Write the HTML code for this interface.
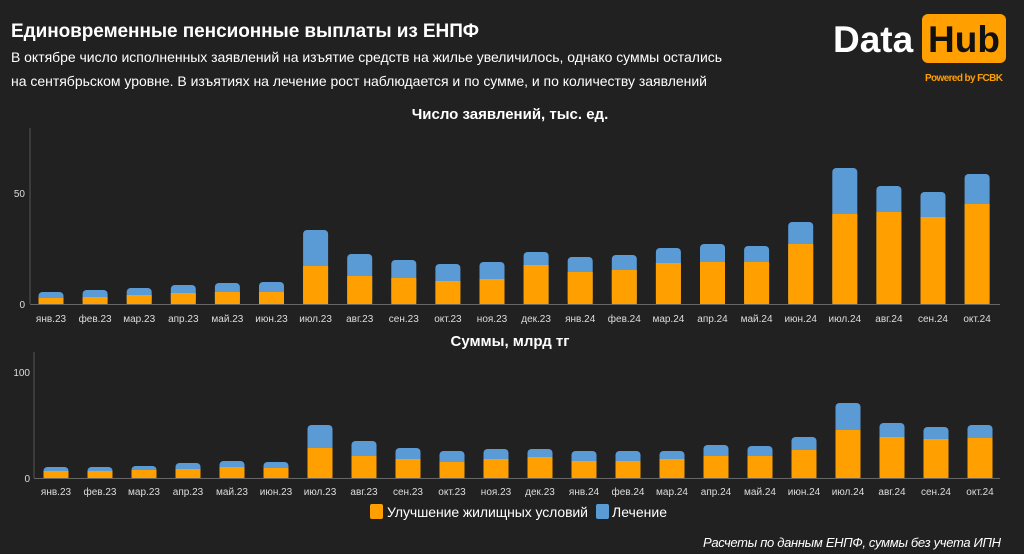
<!DOCTYPE html>
<html><head><meta charset="utf-8"><style>
html,body{margin:0;padding:0;background:#212121;}
svg{display:block;font-family:"Liberation Sans",sans-serif;}
</style></head><body>
<svg width="1024" height="554" viewBox="0 0 1024 554" xmlns="http://www.w3.org/2000/svg">
<rect width="1024" height="554" fill="#212121"/>
<text x="11" y="37" fill="#fff" font-size="19" font-weight="bold" textLength="468">Единовременные пенсионные выплаты из ЕНПФ</text>
<text x="11" y="62" fill="#fff" font-size="14" textLength="711">В октябре число исполненных заявлений на изъятие средств на жилье увеличилось, однако суммы остались</text>
<text x="11" y="86" fill="#fff" font-size="14" textLength="696">на сентябрьском уровне. В изъятиях на лечение рост наблюдается и по сумме, и по количеству заявлений</text>
<text x="833" y="52" fill="#fff" font-size="37" font-weight="bold">Data</text>
<rect x="922" y="14" width="84" height="49" rx="6" fill="#FF9F00"/>
<text x="964" y="52" fill="#111" font-size="37" font-weight="bold" text-anchor="middle">Hub</text>
<text x="925" y="81" fill="#FF9F00" font-size="10" font-weight="bold" textLength="78">Powered by FCBK</text>
<text x="510" y="119" fill="#fff" font-size="15" font-weight="bold" text-anchor="middle">Число заявлений, тыс. ед.</text>
<line x1="30" y1="128" x2="30" y2="304" stroke="#555"/>
<line x1="30" y1="304.5" x2="1000" y2="304.5" stroke="#666"/>
<g fill="#ddd" font-size="10" text-anchor="end"><text x="25" y="197">50</text><text x="25" y="308">0</text></g>
<g fill="#5B9BD5">
<rect x="38.5" y="292" width="25" height="12" rx="4"/><rect x="82.6" y="290" width="25" height="14" rx="4"/><rect x="126.7" y="288" width="25" height="16" rx="4"/><rect x="170.8" y="285" width="25" height="19" rx="4"/><rect x="214.9" y="283" width="25" height="21" rx="4"/><rect x="259" y="282" width="25" height="22" rx="4"/><rect x="303.1" y="230" width="25" height="74" rx="4"/><rect x="347.2" y="254" width="25" height="50" rx="4"/><rect x="391.3" y="260" width="25" height="44" rx="4"/><rect x="435.4" y="264" width="25" height="40" rx="4"/><rect x="479.5" y="262" width="25" height="42" rx="4"/><rect x="523.6" y="252" width="25" height="52" rx="4"/><rect x="567.7" y="257" width="25" height="47" rx="4"/><rect x="611.8" y="255" width="25" height="49" rx="4"/><rect x="655.9" y="248" width="25" height="56" rx="4"/><rect x="700" y="244" width="25" height="60" rx="4"/><rect x="744.1" y="246" width="25" height="58" rx="4"/><rect x="788.2" y="222" width="25" height="82" rx="4"/><rect x="832.3" y="168" width="25" height="136" rx="4"/><rect x="876.4" y="186" width="25" height="118" rx="4"/><rect x="920.5" y="192" width="25" height="112" rx="4"/><rect x="964.6" y="174" width="25" height="130" rx="4"/>
</g>
<g fill="#FF9F00">
<rect x="38.5" y="298" width="25" height="6"/><rect x="82.6" y="297" width="25" height="7"/><rect x="126.7" y="295" width="25" height="9"/><rect x="170.8" y="293" width="25" height="11"/><rect x="214.9" y="292" width="25" height="12"/><rect x="259" y="292" width="25" height="12"/><rect x="303.1" y="266" width="25" height="38"/><rect x="347.2" y="276" width="25" height="28"/><rect x="391.3" y="278" width="25" height="26"/><rect x="435.4" y="281" width="25" height="23"/><rect x="479.5" y="279" width="25" height="25"/><rect x="523.6" y="265" width="25" height="39"/><rect x="567.7" y="272" width="25" height="32"/><rect x="611.8" y="270" width="25" height="34"/><rect x="655.9" y="263" width="25" height="41"/><rect x="700" y="262" width="25" height="42"/><rect x="744.1" y="262" width="25" height="42"/><rect x="788.2" y="244" width="25" height="60"/><rect x="832.3" y="214" width="25" height="90"/><rect x="876.4" y="212" width="25" height="92"/><rect x="920.5" y="217" width="25" height="87"/><rect x="964.6" y="204" width="25" height="100"/>
</g>
<g fill="#ddd" font-size="10" text-anchor="middle">
<text x="51" y="322">янв.23</text><text x="95.1" y="322">фев.23</text><text x="139.2" y="322">мар.23</text><text x="183.3" y="322">апр.23</text><text x="227.4" y="322">май.23</text><text x="271.5" y="322">июн.23</text><text x="315.6" y="322">июл.23</text><text x="359.7" y="322">авг.23</text><text x="403.8" y="322">сен.23</text><text x="447.9" y="322">окт.23</text><text x="492" y="322">ноя.23</text><text x="536.1" y="322">дек.23</text><text x="580.2" y="322">янв.24</text><text x="624.3" y="322">фев.24</text><text x="668.4" y="322">мар.24</text><text x="712.5" y="322">апр.24</text><text x="756.6" y="322">май.24</text><text x="800.7" y="322">июн.24</text><text x="844.8" y="322">июл.24</text><text x="888.9" y="322">авг.24</text><text x="933" y="322">сен.24</text><text x="977.1" y="322">окт.24</text>
</g>
<text x="510" y="346" fill="#fff" font-size="15" font-weight="bold" text-anchor="middle">Суммы, млрд тг</text>
<line x1="34" y1="352" x2="34" y2="478" stroke="#555"/>
<line x1="34" y1="478.5" x2="1000" y2="478.5" stroke="#666"/>
<g fill="#ddd" font-size="10" text-anchor="end"><text x="30" y="376">100</text><text x="30" y="482">0</text></g>
<g fill="#5B9BD5">
<rect x="43.5" y="467" width="25" height="11" rx="4"/><rect x="87.5" y="467" width="25" height="11" rx="4"/><rect x="131.5" y="466" width="25" height="12" rx="4"/><rect x="175.5" y="463" width="25" height="15" rx="4"/><rect x="219.5" y="461" width="25" height="17" rx="4"/><rect x="263.5" y="462" width="25" height="16" rx="4"/><rect x="307.5" y="425" width="25" height="53" rx="4"/><rect x="351.5" y="441" width="25" height="37" rx="4"/><rect x="395.5" y="448" width="25" height="30" rx="4"/><rect x="439.5" y="451" width="25" height="27" rx="4"/><rect x="483.5" y="449" width="25" height="29" rx="4"/><rect x="527.5" y="449" width="25" height="29" rx="4"/><rect x="571.5" y="451" width="25" height="27" rx="4"/><rect x="615.5" y="451" width="25" height="27" rx="4"/><rect x="659.5" y="451" width="25" height="27" rx="4"/><rect x="703.5" y="445" width="25" height="33" rx="4"/><rect x="747.5" y="446" width="25" height="32" rx="4"/><rect x="791.5" y="437" width="25" height="41" rx="4"/><rect x="835.5" y="403" width="25" height="75" rx="4"/><rect x="879.5" y="423" width="25" height="55" rx="4"/><rect x="923.5" y="427" width="25" height="51" rx="4"/><rect x="967.5" y="425" width="25" height="53" rx="4"/>
</g>
<g fill="#FF9F00">
<rect x="43.5" y="471" width="25" height="7"/><rect x="87.5" y="471" width="25" height="7"/><rect x="131.5" y="470" width="25" height="8"/><rect x="175.5" y="469" width="25" height="9"/><rect x="219.5" y="467" width="25" height="11"/><rect x="263.5" y="468" width="25" height="10"/><rect x="307.5" y="448" width="25" height="30"/><rect x="351.5" y="456" width="25" height="22"/><rect x="395.5" y="459" width="25" height="19"/><rect x="439.5" y="462" width="25" height="16"/><rect x="483.5" y="459" width="25" height="19"/><rect x="527.5" y="457" width="25" height="21"/><rect x="571.5" y="461" width="25" height="17"/><rect x="615.5" y="461" width="25" height="17"/><rect x="659.5" y="459" width="25" height="19"/><rect x="703.5" y="456" width="25" height="22"/><rect x="747.5" y="456" width="25" height="22"/><rect x="791.5" y="450" width="25" height="28"/><rect x="835.5" y="430" width="25" height="48"/><rect x="879.5" y="437" width="25" height="41"/><rect x="923.5" y="439" width="25" height="39"/><rect x="967.5" y="438" width="25" height="40"/>
</g>
<g fill="#ddd" font-size="10" text-anchor="middle">
<text x="56" y="495">янв.23</text><text x="100" y="495">фев.23</text><text x="144" y="495">мар.23</text><text x="188" y="495">апр.23</text><text x="232" y="495">май.23</text><text x="276" y="495">июн.23</text><text x="320" y="495">июл.23</text><text x="364" y="495">авг.23</text><text x="408" y="495">сен.23</text><text x="452" y="495">окт.23</text><text x="496" y="495">ноя.23</text><text x="540" y="495">дек.23</text><text x="584" y="495">янв.24</text><text x="628" y="495">фев.24</text><text x="672" y="495">мар.24</text><text x="716" y="495">апр.24</text><text x="760" y="495">май.24</text><text x="804" y="495">июн.24</text><text x="848" y="495">июл.24</text><text x="892" y="495">авг.24</text><text x="936" y="495">сен.24</text><text x="980" y="495">окт.24</text>
</g>
<rect x="370" y="504" width="13" height="15" rx="2" fill="#FF9F00"/>
<text x="387" y="517" fill="#fff" font-size="14" textLength="201">Улучшение жилищных условий</text>
<rect x="596" y="504" width="13" height="15" rx="2" fill="#5B9BD5"/>
<text x="612" y="517" fill="#fff" font-size="14" textLength="55">Лечение</text>
<text x="1001" y="547" fill="#fff" font-size="13" font-style="italic" text-anchor="end" textLength="298">Расчеты по данным ЕНПФ, суммы без учета ИПН</text>
</svg>
</body></html>
